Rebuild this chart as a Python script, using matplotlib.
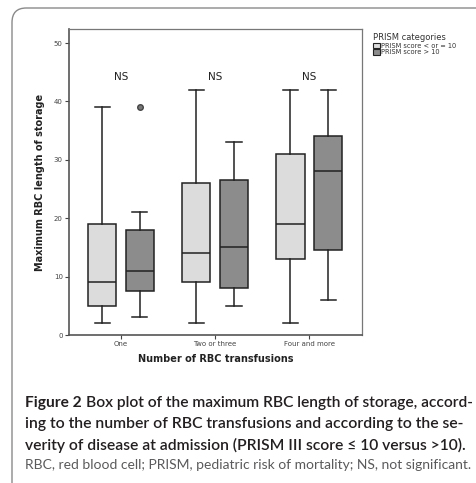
import matplotlib
matplotlib.use("Agg")
import matplotlib.pyplot as plt
from matplotlib.patches import FancyBboxPatch, Patch

# box statistics
groups = ["One", "Two or three", "Four and more"]
series = ["PRISM score < or = 10", "PRISM score > 10"]
low_whisker = [[2, 2, 2], [3, 5, 6]]
q1 = [[5, 9, 13], [7.5, 8, 14.5]]
median = [[9, 14, 19], [11, 15, 28]]
q3 = [[19, 26, 31], [18, 26.5, 34]]
high_whisker = [[39, 42, 42], [21, 33, 42]]
outliers = [[[], [], []], [[39], [], []]]
ns_labels = ["NS", "NS", "NS"]
fills = ["#dcdcdc", "#8c8c8c"]

fig = plt.figure(figsize=(4.76, 4.83), dpi=100)

# rounded frame of the figure panel
frame = FancyBboxPatch((12 / 476, -0.2), 1.2, (483 - 8) / 483 + 0.2,
                       boxstyle="round,pad=0,rounding_size=0.03",
                       transform=fig.transFigure, fill=False,
                       edgecolor="#8a8a8a", linewidth=1.0)
fig.patches.append(frame)

ax = fig.add_axes([69 / 476, 148 / 483, 293 / 476, 306 / 483])

offsets = [-0.2, 0.2]
for s in range(2):
    stats = []
    for g in range(3):
        stats.append(dict(whislo=low_whisker[s][g], q1=q1[s][g], med=median[s][g],
                          q3=q3[s][g], whishi=high_whisker[s][g],
                          fliers=outliers[s][g]))
    pos = [g + 1 + offsets[s] for g in range(3)]
    ax.bxp(stats, positions=pos, widths=0.30, patch_artist=True,
           showfliers=True,
           boxprops=dict(facecolor=fills[s], edgecolor="#222222", linewidth=1.1),
           medianprops=dict(color="#222222", linewidth=1.1),
           whiskerprops=dict(color="#222222", linewidth=1.1),
           capprops=dict(color="#222222", linewidth=1.1),
           capwidths=0.16,
           flierprops=dict(marker="o", markersize=4, markerfacecolor="#777777",
                           markeredgecolor="#444444"))

for g in range(3):
    ax.text(g + 1, 44.2, ns_labels[g], ha="center", va="center",
            fontsize=7.5, color="#222222")

ax.set_xlim(0.447, 3.56)
ax.set_ylim(0, 52.4)
ax.set_xticks([1, 2, 3])
ax.set_xticklabels(groups)
ax.set_yticks([0, 10, 20, 30, 40, 50])
ax.tick_params(axis="both", labelsize=5, colors="#444444", length=3,
               width=0.8, pad=1.5)
for sp in ["left", "bottom"]:
    ax.spines[sp].set_linewidth(1.2)
    ax.spines[sp].set_color("#555555")
for sp in ["top", "right"]:
    ax.spines[sp].set_linewidth(0.9)
    ax.spines[sp].set_color("#777777")

ax.set_ylabel("Maximum RBC length of storage", fontsize=7, fontweight="bold",
              color="#222222", labelpad=6)
ax.set_xlabel("Number of RBC transfusions", fontsize=7, fontweight="bold",
              color="#222222", labelpad=5)

handles = [Patch(facecolor=fills[i], edgecolor="#222222", linewidth=0.8)
           for i in range(2)]
leg = fig.legend(handles, series, loc="upper left",
                 bbox_to_anchor=(370 / 476, 1 - 30 / 483), frameon=False,
                 title="PRISM categories", fontsize=4.8, title_fontsize=6,
                 handlelength=1.0, handleheight=0.9, handletextpad=0.2,
                 labelspacing=0.05, borderpad=0)
leg._legend_box.align = "left"
for t in leg.get_texts():
    t.set_color("#333333")
leg.get_title().set_color("#333333")

# caption, each line fitted to its width in the reference
cap_font = "Lato"
cap_size = 10.6
x0 = 25
r = fig.canvas.get_renderer()

lead = fig.text(x0 / 476, 1 - 403 / 483, "Figure 2", fontsize=cap_size,
                fontweight="bold", family=cap_font, color="#231f20", va="center")
rest = fig.text(0, 1 - 403 / 483,
                "Box plot of the maximum RBC length of storage, accord-",
                fontsize=cap_size, fontweight="semibold", family=cap_font,
                color="#231f20", va="center")
w1 = lead.get_window_extent(r).width + 4 + rest.get_window_extent(r).width
k = (471 - x0) / w1
lead.set_fontsize(cap_size * k)
rest.set_fontsize(cap_size * k)
rest.set_x((lead.get_window_extent(r).x1 + 4 * k) / 476)

lines = [("ing to the number of RBC transfusions and according to the se-", 424, 461, "semibold", "#231f20"),
         ("verity of disease at admission (PRISM III score \u2264 10 versus >10).", 445, 462, "semibold", "#231f20"),
         ("RBC, red blood cell; PRISM, pediatric risk of mortality; NS, not significant.", 465, 471, "normal", "#5a5a5c")]
for txt, yy, xend, wt, col in lines:
    t = fig.text(x0 / 476, 1 - yy / 483, txt, fontsize=cap_size, fontweight=wt,
                 family=cap_font, color=col, va="center")
    w = t.get_window_extent(r).width
    t.set_fontsize(cap_size * (xend - x0) / w)

fig.savefig("out.png", dpi=100)
